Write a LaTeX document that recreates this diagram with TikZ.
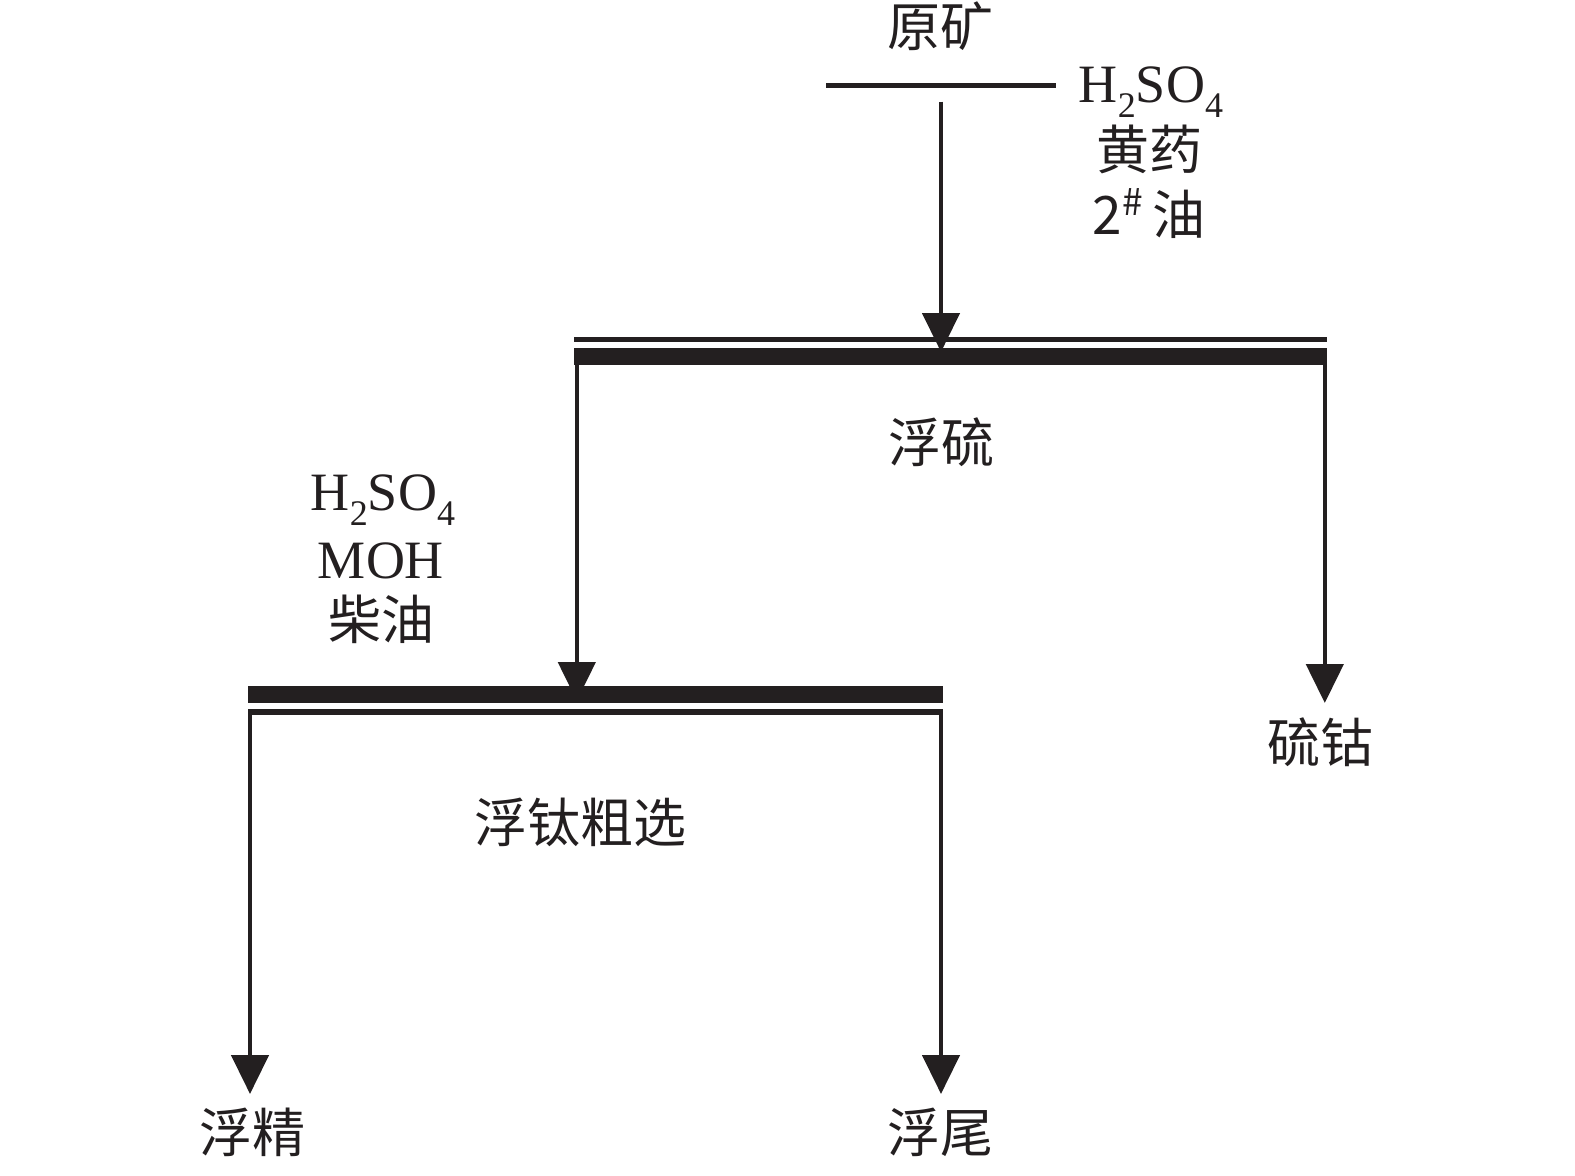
\documentclass[tikz,border=0pt]{standalone}
\usepackage{fontspec}
\setmainfont{Liberation Serif}
\newfontfamily\cjk{Noto Sans CJK SC}
\usetikzlibrary{arrows.meta}
\definecolor{ink}{HTML}{231F20}
\tikzset{
  flow/.style={draw=ink, line width=2.3pt, -{Triangle[width=18.5pt,length=19.5pt]}},
  plain/.style={draw=ink, line width=2.5pt},
  barfill/.style={fill=ink, draw=none, inner sep=0pt, outer sep=0pt, anchor=north west},
  cn/.style={font=\cjk\fontsize{26.5pt}{30pt}\selectfont, text=ink, inner sep=0pt, anchor=base},
  lat/.style={font=\fontsize{27pt}{32pt}\selectfont, text=ink, inner sep=0pt, anchor=base},
}
\newcommand{\subd}[1]{\raisebox{-0.28em}{\fontsize{18pt}{20pt}\selectfont #1}}
\begin{document}
\begin{tikzpicture}[x=0.5pt,y=-0.5pt]
\useasboundingbox (0,0) rectangle (1575,1175);
% feed
\node[cn] (ore) at (940,46) {原矿};
\coordinate (fl) at (826,85.3);
\coordinate (fr) at (1056,85.3);
\draw[plain] (fl) -- (fr);
\node[lat] (r1a) at (1151,102) {H\subd{2}SO\subd{4}};
\node[cn] (r1b) at (1149,169) {黄药};
\node[cn] (r1c) at (1149,234) {2\textsuperscript{\itshape\#}\,油};
% bar 1 (sulfur flotation)
\node[barfill, minimum width=376.5pt, minimum height=2.8pt] (b1t) at (574,336.7) {};
\node[barfill, minimum width=376.5pt, minimum height=8.35pt] (b1) at (574,348) {};
\node[cn] (s1) at (941,462) {浮硫};
\coordinate (f0) at (941,101.7);
\coordinate (f1) at (941,352);
\draw[flow] (f0) -- (f1);
% bar 2 (titanium rough flotation)
\node[barfill, minimum width=347.8pt, minimum height=8.5pt] (b2) at (247.7,685.7) {};
\node[barfill, minimum width=347.8pt, minimum height=2.85pt] (b2t) at (247.7,709) {};
\node[cn] (s2) at (580,842) {浮钛粗选};
\node[lat] (r2a) at (383,510) {H\subd{2}SO\subd{4}};
\node[lat] (r2b) at (381,578) {MOH};
\node[cn] (r2c) at (381,639) {柴油};
% connectors
\coordinate (a1s) at (576.8,365);
\coordinate (a1e) at (576.8,701);
\draw[flow] (a1s) -- (a1e);
\coordinate (a2s) at (1324.8,365);
\coordinate (a2e) at (1324.8,703);
\draw[flow] (a2s) -- (a2e);
\node[cn] (co) at (1320,762) {硫钴};
\coordinate (a3s) at (250,714);
\coordinate (a3e) at (250,1094);
\draw[flow] (a3s) -- (a3e);
\coordinate (a4s) at (941,714);
\coordinate (a4e) at (941,1094);
\draw[flow] (a4s) -- (a4e);
\node[cn] (c1) at (252,1152) {浮精};
\node[cn] (c2) at (940,1152) {浮尾};
\end{tikzpicture}
\end{document}
